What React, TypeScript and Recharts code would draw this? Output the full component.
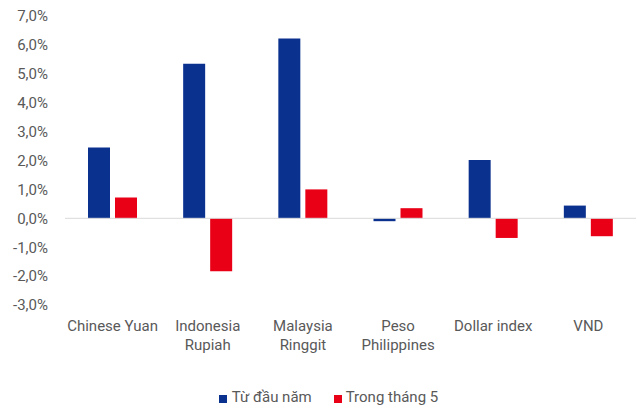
import { BarChart, Bar, XAxis, YAxis, ReferenceLine } from 'recharts';

const categories = ['Chinese Yuan', 'Indonesia Rupiah', 'Malaysia Ringgit', 'Peso Philippines', 'Dollar index', 'VND'];
const tickLines = [['Chinese Yuan'], ['Indonesia', 'Rupiah'], ['Malaysia', 'Ringgit'], ['Peso', 'Philippines'], ['Dollar index'], ['VND']];
const ytd = [2.45, 5.35, 6.22, -0.1, 2.02, 0.44];
const may = [0.72, -1.83, 1.0, 0.35, -0.68, -0.62];
const yTicks = [-3, -2, -1, 0, 1, 2, 3, 4, 5, 6, 7];

const BLUE = '#0B318F';
const RED = '#E90017';
const TEXT = '#595959';
const FONT = 'Roboto, sans-serif';

const data = categories.map((c, i) => ({ name: c, ytd: ytd[i], may: may[i] }));

const fmt = (v: number) => v.toFixed(1).replace('.', ',') + '%';

const CatTick = ({ x, y, index }: any) => {
  const lines = tickLines[index] || [];
  return (
    <text x={x} y={y} textAnchor="middle" fill={TEXT} fontSize={15} fontFamily={FONT}>
      {lines.map((l, i) => (
        <tspan key={i} x={x} dy={i === 0 ? 18 : 19}>
          {l}
        </tspan>
      ))}
    </text>
  );
};

export default function App() {
  return (
    <div style={{ position: 'absolute', left: 0, top: 0, width: 637, height: 410, background: '#fff' }}>
      <BarChart
        width={637}
        height={410}
        data={data}
        margin={{ top: 16, right: 1, bottom: 55, left: 0 }}
        barSize={22}
        barGap={5}
      >
        <XAxis dataKey="name" axisLine={false} tickLine={false} height={50} interval={0} tick={<CatTick />} />
        <YAxis
          width={65}
          domain={[-3, 7]}
          ticks={yTicks}
          interval={0}
          axisLine={false}
          tickLine={false}
          tickMargin={11}
          tickFormatter={fmt}
          tick={{ fill: TEXT, fontSize: 15, fontFamily: FONT }}
        />
        <ReferenceLine y={0} stroke="#d9d9d9" strokeWidth={1} />
        <Bar dataKey="ytd" name="Từ đầu năm" fill={BLUE} isAnimationActive={false} />
        <Bar dataKey="may" name="Trong tháng 5" fill={RED} isAnimationActive={false} />
      </BarChart>
      <div
        style={{
          position: 'absolute',
          top: 388,
          left: 0,
          width: 637,
          display: 'flex',
          justifyContent: 'center',
          paddingLeft: 20,
          boxSizing: 'border-box',
          fontFamily: FONT,
          fontSize: 15,
          color: TEXT,
          gap: 22,
          lineHeight: '18px',
        }}
      >
        <span style={{ display: 'flex', alignItems: 'center' }}>
          <span style={{ width: 8, height: 8, background: BLUE, marginRight: 5, marginTop: 3 }} />
          Từ đầu năm
        </span>
        <span style={{ display: 'flex', alignItems: 'center' }}>
          <span style={{ width: 8, height: 8, background: RED, marginRight: 4, marginTop: 3 }} />
          Trong tháng 5
        </span>
      </div>
    </div>
  );
}
